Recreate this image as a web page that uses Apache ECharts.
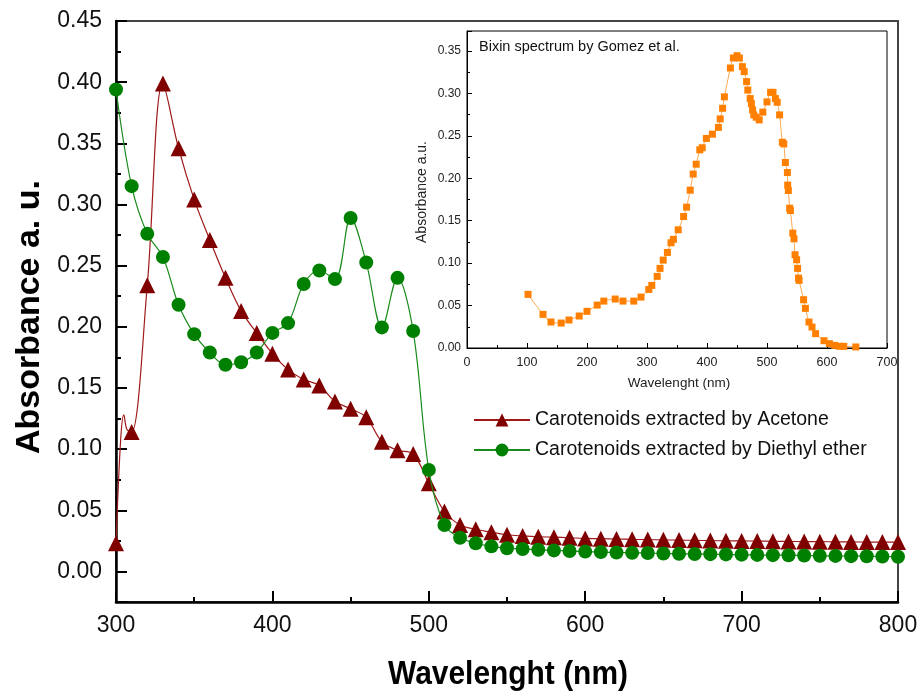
<!DOCTYPE html>
<html>
<head>
<meta charset="utf-8">
<script src="https://cdn.jsdelivr.net/npm/echarts@6/dist/echarts.min.js"></script>
<style>
html,body{margin:0;padding:0;background:#fff;}
#chart{width:923px;height:696px;}
</style>
</head>
<body>
<div id="chart"></div>
<script>
// ---------- data ----------
const wavelengths = [300,310,320,330,340,350,360,370,380,390,400,410,420,430,440,450,460,470,480,490,500,
  510,520,530,540,550,560,570,580,590,600,610,620,630,640,650,660,670,680,690,700,
  710,720,730,740,750,760,770,780,790,800];
const acetone = [0.023,0.114,0.234,0.399,0.346,0.304,0.271,0.240,0.213,0.195,0.178,0.165,0.157,0.152,0.139,0.133,0.126,0.106,0.099,0.096,0.072,
  0.049,0.038,0.0345,0.032,0.030,0.029,0.0283,0.028,0.0275,0.027,0.0268,0.0265,0.0262,0.026,0.0258,0.0256,0.0254,0.0252,0.025,0.0249,
  0.0248,0.0246,0.0245,0.0244,0.0243,0.0242,0.0241,0.024,0.024,0.024];
// unmarked spline points of the acetone trace near 305 nm
const acetoneShoulderX = [303,305,307];
const acetoneShoulderY = [0.108,0.128,0.116];
const diethyl = [0.394,0.315,0.276,0.257,0.218,0.194,0.179,0.169,0.171,0.179,0.195,0.203,0.235,0.246,0.239,0.289,0.2525,0.1995,0.240,0.1965,0.083,
  0.038,0.0275,0.023,0.0205,0.019,0.0183,0.0177,0.0172,0.0167,0.0162,0.0158,0.0155,0.0152,0.015,0.0147,0.0145,0.0143,0.0141,0.0139,0.0137,
  0.0135,0.0133,0.0132,0.013,0.0128,0.0127,0.0125,0.0124,0.0122,0.012];
const bixinX = [101.7,126.7,140,157,170,187,200,217,228,247,260,278,290,303,308,317,321.7,327,334,340,344,352,361,366,372,377,382,388,392,399,
  409,419,422,426,429,439,444,450,454,459,462,466,468,472,474,476,478,482,487,493,500,506,510,514,517,521,525.6,528,530.6,534,534.5,535.6,
  537.8,539,543,545,546.7,549.4,551,552.5,553.5,561,564,570,575,581,595,604,613,621,628,648];
const bixinY = [0.0632,0.0396,0.0306,0.0294,0.033,0.0377,0.0432,0.0506,0.0553,0.0577,0.0553,0.0553,0.060,0.069,0.0738,0.0844,0.0938,0.1036,0.1126,0.124,0.128,0.1393,0.155,0.166,0.186,0.205,0.2166,0.2335,0.236,0.247,
  0.252,0.260,0.270,0.2825,0.296,0.330,0.3418,0.3445,0.3418,0.3316,0.3257,0.314,0.304,0.294,0.288,0.2805,0.2747,0.272,0.2688,0.278,0.290,0.3013,0.3013,0.294,0.2896,0.2747,0.2425,0.2405,0.2186,0.2068,0.192,0.1856,
  0.1648,0.162,0.1354,0.1287,0.1099,0.104,0.0938,0.0824,0.0797,0.0569,0.0467,0.0306,0.0247,0.0169,0.0086,0.0051,0.0031,0.002,0.002,0.0012];
const mainYTicks = ['0.00','0.05','0.10','0.15','0.20','0.25','0.30','0.35','0.40','0.45'];

// ---------- build ----------
const FONT = '"Liberation Sans", Arial, sans-serif';
const acetoneData = wavelengths.map((w,i)=>({value:[w,acetone[i]]}));
acetoneShoulderX.forEach((w,i)=>acetoneData.push({value:[w,acetoneShoulderY[i]],symbol:'none'}));
acetoneData.sort((a,b)=>a.value[0]-b.value[0]);
const diethylData = wavelengths.map((w,i)=>[w,diethyl[i]]);
const bixinData = bixinX.map((x,i)=>[x,bixinY[i]]);

const chart = echarts.init(document.getElementById('chart'), null, {renderer:'canvas'});
const option = {
  animation:false,
  backgroundColor:'#fff',
  grid:[
    {left:116, top:21, width:782, height:581, show:true, borderColor:'#444', borderWidth:2, backgroundColor:'transparent', outerBoundsMode:'none', containLabel:false},
    {left:467, top:31, width:420, height:317, show:true, borderColor:'#000', borderWidth:1, backgroundColor:'#fff', outerBoundsMode:'none', containLabel:false}
  ],
  xAxis:[
    {gridIndex:0, type:'value', min:300, max:800, interval:100, position:'bottom',
     axisLine:{onZero:false, lineStyle:{color:'#000', width:2.5}},
     axisTick:{inside:true, length:11, lineStyle:{color:'#000', width:2}},
     minorTick:{show:true, splitNumber:2, length:5, lineStyle:{color:'#000', width:2}},
     splitLine:{show:false}, minorSplitLine:{show:false},
     axisLabel:{fontSize:23, color:'#111', fontFamily:FONT, margin:12}},
    {gridIndex:1, type:'value', min:0, max:700, interval:100, position:'bottom',
     axisLine:{onZero:false, lineStyle:{color:'#000', width:1}},
     axisTick:{inside:true, length:5, lineStyle:{color:'#000', width:1}},
     minorTick:{show:true, splitNumber:2, length:3, lineStyle:{color:'#000', width:1}},
     splitLine:{show:false},
     axisLabel:{fontSize:12.5, color:'#222', fontFamily:FONT, margin:8}}
  ],
  yAxis:[
    {gridIndex:0, type:'value', min:-0.025, max:0.45, interval:0.025, position:'left', offset:0,
     axisLine:{onZero:false, lineStyle:{color:'#000', width:2.5}},
     axisTick:{inside:true, length:5, lineStyle:{color:'#000', width:2}},
     splitLine:{show:false}, axisLabel:{show:false}},
    // major ticks + labels (mirrored scale so ticks land on 0.00 ... 0.45)
    {gridIndex:0, type:'value', min:-0.45, max:0.025, inverse:true, interval:0.05, position:'left', offset:0,
     axisLine:{show:false, onZero:false},
     axisTick:{inside:true, length:11, lineStyle:{color:'#000', width:2}},
     splitLine:{show:false},
     axisLabel:{fontSize:23, color:'#111', fontFamily:FONT, margin:14,
       formatter:function(v){ if (v > 0.0001) return ''; const k = Math.round(-v/0.05); return mainYTicks[k] || ''; }}},
    {gridIndex:1, type:'value', min:0, max:0.3736, interval:0.05, position:'left',
     axisLine:{onZero:false, lineStyle:{color:'#000', width:1}},
     axisTick:{inside:true, length:5, lineStyle:{color:'#000', width:1}},
     minorTick:{show:true, splitNumber:2, length:3, lineStyle:{color:'#000', width:1}},
     splitLine:{show:false},
     axisLabel:{fontSize:12, color:'#222', fontFamily:FONT, margin:6, showMaxLabel:false,
       formatter:function(v){ return v > 0.36 ? '' : v.toFixed(2); }}}
  ],
  legend:{
    orient:'vertical', left:473, top:410, padding:0, itemWidth:56, itemHeight:16, itemGap:10,
    textStyle:{fontSize:19.5, color:'#111', fontFamily:FONT},
    data:['Carotenoids extracted by Acetone','Carotenoids extracted by Diethyl ether']
  },
  series:[
    {name:'Carotenoids extracted by Acetone', type:'line', xAxisIndex:0, yAxisIndex:0,
     data:acetoneData, smooth:0.35, symbol:'triangle', symbolSize:16, showAllSymbol:true,
     itemStyle:{color:'#800000'}, lineStyle:{color:'#a01818', width:1.2}, z:3},
    {name:'Carotenoids extracted by Diethyl ether', type:'line', xAxisIndex:0, yAxisIndex:0,
     data:diethylData, smooth:0.35, symbol:'circle', symbolSize:14, showAllSymbol:true,
     itemStyle:{color:'#008000'}, lineStyle:{color:'#1a8a1a', width:1.2}, z:4},
    {name:'Bixin', type:'line', xAxisIndex:1, yAxisIndex:2,
     data:bixinData, smooth:0.3, symbol:'rect', symbolSize:7, showAllSymbol:true,
     itemStyle:{color:'#ff8000'}, lineStyle:{color:'#ffa850', width:1}, z:5}
  ],
  graphic:[
    {type:'text', x:30, y:317, rotation:Math.PI/2, z:10,
     style:{text:'Absorbance a. u.', fill:'#000', font:'bold 34px "Liberation Sans", Arial, sans-serif', align:'center', verticalAlign:'middle'}},
    {type:'text', x:508, y:675, scaleX:0.88, z:10,
     style:{text:'Wavelenght (nm)', fill:'#000', font:'bold 34px "Liberation Sans", Arial, sans-serif', align:'center', verticalAlign:'middle'}},
    {type:'text', x:479, y:47, z:10,
     style:{text:'Bixin spectrum by Gomez et al.', fill:'#111', font:'14.5px "Liberation Sans", Arial, sans-serif', align:'left', verticalAlign:'middle'}},
    {type:'text', x:422, y:192, rotation:Math.PI/2, z:10,
     style:{text:'Absorbance a.u.', fill:'#222', font:'14px "Liberation Sans", Arial, sans-serif', align:'center', verticalAlign:'middle'}},
    {type:'text', x:679, y:383, z:10,
     style:{text:'Wavelenght (nm)', fill:'#222', font:'13.5px "Liberation Sans", Arial, sans-serif', align:'center', verticalAlign:'middle'}}
  ]
};
chart.setOption(option);
</script>
</body>
</html>
